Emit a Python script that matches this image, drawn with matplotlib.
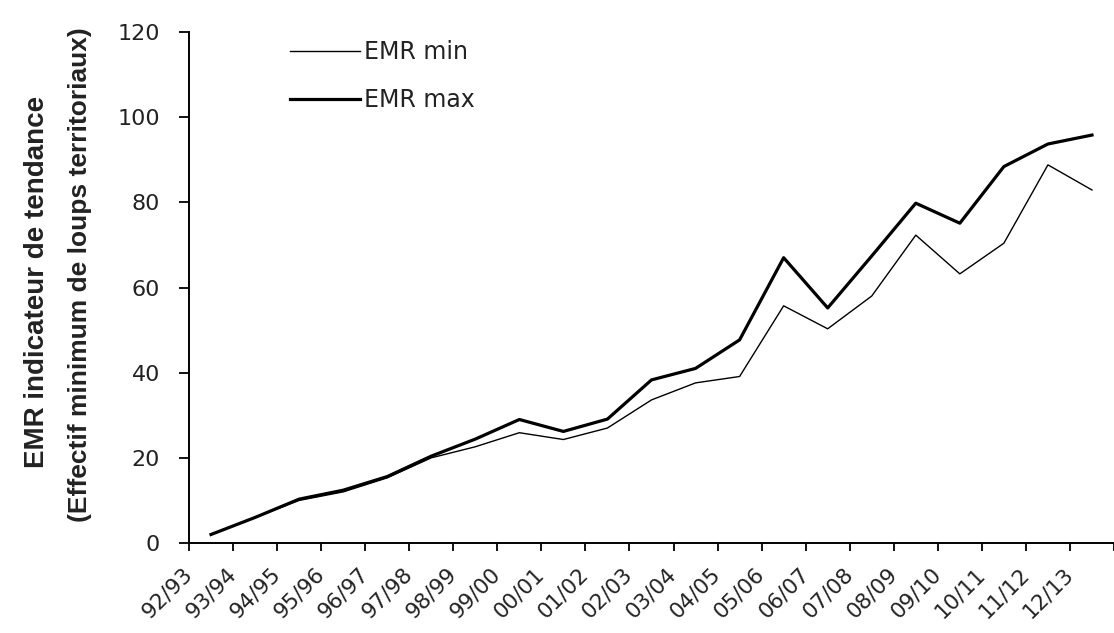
import numpy as np
import matplotlib
matplotlib.use('Agg')
import matplotlib.pyplot as plt
from matplotlib.transforms import ScaledTranslation

# saisons
seasons = ['92/93', '93/94', '94/95', '95/96', '96/97', '97/98', '98/99',
           '99/00', '00/01', '01/02', '02/03', '03/04', '04/05', '05/06',
           '06/07', '07/08', '08/09', '09/10', '10/11', '11/12', '12/13']

emr_min = [2, 6, 10, 12, 15.3, 20, 22.6, 25.9, 24.3, 27, 33.6, 37.6, 39.1,
           55.7, 50.3, 58, 72.3, 63.2, 70.4, 88.8, 82.9]
emr_max = [2, 6, 10.3, 12.4, 15.6, 20.4, 24.4, 29, 26.2, 29.1, 38.3, 41,
           47.7, 67, 55.2, 67.4, 79.8, 75.1, 88.4, 93.7, 95.8]

yticks = [0, 20, 40, 60, 80, 100, 120]

fig = plt.figure(figsize=(11.14, 6.33), dpi=100)
ax = fig.add_axes([189 / 1114, 90 / 633, 925 / 1114, 511 / 633])

x = np.arange(len(seasons))
ax.plot(x, emr_min, color='black', lw=1.0, label='EMR min')
ax.plot(x, emr_max, color='black', lw=2.3, label='EMR max')

ax.set_ylim(0, 120)
ax.set_xlim(-0.5, len(seasons) - 0.62)
ax.set_yticks(yticks)
ax.set_yticklabels([str(v) for v in yticks], fontsize=16, family='DejaVu Sans',
                   color='#222222')

# ticks between categories, labels at the ticks
bounds = np.arange(len(seasons) + 1) - 0.5
ax.set_xticks(bounds)
ax.set_xticklabels(seasons + [''], rotation=45, ha='right', va='center',
                   rotation_mode='anchor', fontsize=15.5, family='DejaVu Sans',
                   color='#222222')
shift = ScaledTranslation(-4 / 100, 0, fig.dpi_scale_trans)
for lab in ax.get_xticklabels():
    lab.set_transform(lab.get_transform() + shift)

ax.tick_params(axis='y', direction='out', length=7, width=1.3, pad=14)
ax.tick_params(axis='x', direction='out', length=6, width=1.3, pad=14)

for s in ['top', 'right']:
    ax.spines[s].set_visible(False)
for s in ['left', 'bottom']:
    ax.spines[s].set_linewidth(1.4)

fig.text(37 / 1114, 1 - 282 / 633, 'EMR indicateur de tendance', rotation=90,
         ha='center', va='center', fontsize=20, fontweight='bold',
         family='Liberation Sans', color='#222222')
fig.text(80 / 1114, 1 - 275 / 633, '(Effectif minimum de loups territoriaux)',
         rotation=90, ha='center', va='center', fontsize=19, fontweight='bold',
         family='Liberation Sans', color='#222222')

leg = ax.legend(loc='upper left', bbox_to_anchor=(290 / 1114, 1 - 40 / 633),
                bbox_transform=fig.transFigure, frameon=False, borderpad=0,
                borderaxespad=0, handlelength=2.95, handletextpad=0.2,
                labelspacing=1.03, prop={'family': 'DejaVu Sans', 'size': 17})
for t in leg.get_texts():
    t.set_color('#222222')

fig.savefig('out.png', dpi=100)
